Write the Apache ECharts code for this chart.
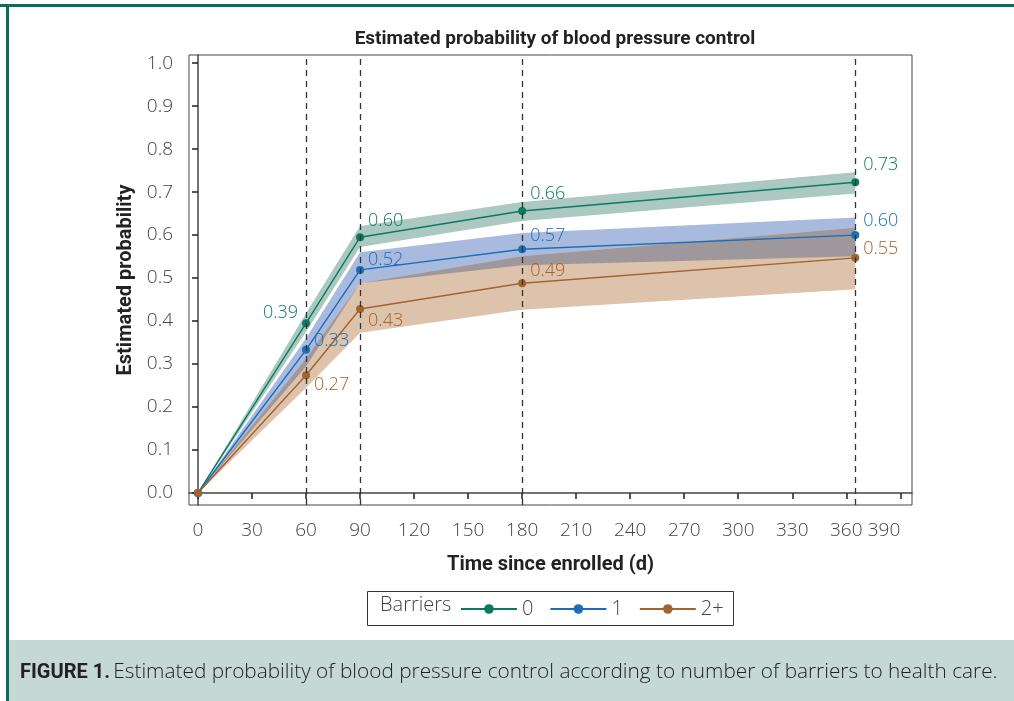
<!DOCTYPE html>
<html lang="en">
<head>
    <meta charset="UTF-8">
    <title>Blood pressure control</title>
    <script src="https://cdn.jsdelivr.net/npm/echarts@6/dist/echarts.min.js"></script>
    <style>
        html, body { margin: 0; height: 100%; background: #fff; }
        #main { width: 1014px; height: 701px; }
    </style>
</head>
<body>
    <div id="main"></div>
    <script type="text/javascript">
        const chart = echarts.init(document.getElementById('main'));

        // data
        const days = [0, 60, 90, 180, 365];
        const markDays = [60, 90, 180, 365];
        const xTicks = [0, 30, 60, 90, 120, 150, 180, 210, 240, 270, 300, 330, 360, 390];
        const yTicks = [0, 0.1, 0.2, 0.3, 0.4, 0.5, 0.6, 0.7, 0.8, 0.9, 1.0];
        const groupNames = ['0', '1', '2+'];

        const est0 = [0, 0.395, 0.595, 0.656, 0.723];
        const est1 = [0, 0.333, 0.519, 0.567, 0.600];
        const est2 = [0, 0.274, 0.428, 0.488, 0.547];

        const lab0 = ['', '0.39', '0.60', '0.66', '0.73'];
        const lab1 = ['', '0.33', '0.52', '0.57', '0.60'];
        const lab2 = ['', '0.27', '0.43', '0.49', '0.55'];

        const lo0 = [0, 0.375, 0.572, 0.633, 0.697];
        const hi0 = [0, 0.418, 0.621, 0.677, 0.746];
        const lo1 = [0, 0.295, 0.488, 0.530, 0.551];
        const hi1 = [0, 0.360, 0.560, 0.605, 0.641];
        const lo2 = [0, 0.245, 0.373, 0.426, 0.474];
        const hi2 = [0, 0.313, 0.488, 0.551, 0.617];

        // styles
        const lineColors = ['#0b7a5e', '#1c6db6', '#a4622e'];
        const bandColors = ['#abc9c0', '#a9badf', '#ddc3ab'];
        const overlapColor = '#9e979c';
        const lightFont = '"Open Sans", sans-serif';
        const boldFont = 'Roboto, sans-serif';

        // label placement per point: [position, dy]
        const labelPlace = [
            [null, ['left', -10], ['right', -16], ['right', -17], ['right', -17]],
            [null, ['right', -9], ['right', -10], ['right', -13], ['right', -14]],
            [null, ['right', 10], ['right', 12], ['right', -12], ['right', -9]]
        ];

        // confidence band as one polygon, drawn through the axis scales
        const bandSeries = (lo, hi, color) => ({
            type: 'custom', silent: true, z: 1, clip: true,
            data: days.map((d, i) => [d, lo[i], hi[i]]),
            encode: { x: 0, y: [1, 2] },
            renderItem: (params, api) => {
                if (params.dataIndex !== 0) return null;
                const pts = [];
                days.forEach((d, i) => pts.push(api.coord([d, hi[i]])));
                for (let i = days.length - 1; i >= 0; i--) pts.push(api.coord([days[i], lo[i]]));
                return { type: 'polygon', shape: { points: pts }, style: { fill: color } };
            }
        });

        const lineSeries = (name, est, labs, places, color, extra) => Object.assign({
            type: 'line', name: name, z: 3,
            data: days.map((d, i) => {
                const p = places[i];
                return {
                    value: [d, est[i]],
                    label: p ? {
                        show: true, formatter: labs[i], position: p[0],
                        distance: 4, offset: [0, p[1]]
                    } : { show: false }
                };
            }),
            symbol: 'circle', symbolSize: 8,
            itemStyle: { color: color },
            lineStyle: { color: color, width: 1.4 },
            label: { color: color, fontSize: 18, fontFamily: lightFont, fontWeight: 300 }
        }, extra || {});

        const series = [
            bandSeries(lo0, hi0, bandColors[0]),
            bandSeries(lo1, hi1, bandColors[1]),
            bandSeries(lo2, hi2, bandColors[2]),
            bandSeries(lo1, hi2.map((v, i) => Math.max(v, lo1[i])), overlapColor),
            lineSeries(groupNames[0], est0, lab0, labelPlace[0], lineColors[0], {
                markLine: {
                    silent: true, symbol: ['none', 'none'],
                    label: { show: false },
                    lineStyle: { color: '#333', type: [6, 5], width: 1.3 },
                    data: markDays.map(d => ({ xAxis: d }))
                }
            }),
            lineSeries(groupNames[1], est1, lab1, labelPlace[1], lineColors[1]),
            lineSeries(groupNames[2], est2, lab2, labelPlace[2], lineColors[2])
        ];

        const axisText = { color: '#444', fontSize: 19, fontFamily: lightFont, fontWeight: 300 };
        const nameText = { color: '#222', fontSize: 20, fontFamily: boldFont, fontWeight: 'bold' };

        chart.setOption({
            animation: false,
            backgroundColor: '#fff',
            title: {
                text: 'Estimated probability of blood pressure control',
                left: 550, top: 25, textAlign: 'center',
                textStyle: { color: '#222', fontSize: 19, fontFamily: boldFont, fontWeight: 'bold' }
            },
            grid: {
                left: 189, right: 102, top: 55, bottom: 196,
                show: true, borderColor: '#444', borderWidth: 1
            },
            legend: {
                data: groupNames,
                left: 455, top: 594,
                itemWidth: 56, itemHeight: 12, itemGap: 16,
                textStyle: { color: '#444', fontSize: 20, fontFamily: lightFont, fontWeight: 300 }
            },
            xAxis: {
                type: 'value', min: -5, max: 396.5,
                name: 'Time since enrolled (d)', nameLocation: 'middle', nameGap: 50,
                nameTextStyle: nameText,
                splitLine: { show: false },
                axisLine: { lineStyle: { color: '#444', width: 1.5 } },
                axisTick: { customValues: xTicks, length: 6, lineStyle: { color: '#222', width: 1.5 } },
                axisLabel: Object.assign({ customValues: xTicks, margin: 16, alignMaxLabel: 'right' }, axisText)
            },
            yAxis: {
                type: 'value', min: -0.028, max: 1.019,
                name: 'Estimated probability', nameLocation: 'middle', nameGap: 51,
                nameTextStyle: nameText,
                splitLine: { show: false },
                axisLine: { show: true, lineStyle: { color: '#444', width: 1.5 } },
                axisTick: { show: true, customValues: yTicks, length: 6, lineStyle: { color: '#222', width: 1.5 } },
                axisLabel: Object.assign({
                    customValues: yTicks, margin: 16,
                    formatter: v => v.toFixed(1)
                }, axisText)
            },
            graphic: [
                { type: 'rect', shape: { x: 0, y: 4, width: 1014, height: 3 }, style: { fill: '#0b6e5a' }, silent: true },
                { type: 'rect', shape: { x: 6, y: 4, width: 3, height: 697 }, style: { fill: '#0b6e5a' }, silent: true },
                { type: 'rect', shape: { x: 9, y: 640, width: 1005, height: 61 }, style: { fill: '#c6d8d4' }, silent: true },
                {
                    type: 'text', left: 20, top: 662, silent: true,
                    style: {
                        text: '{b|FIGURE 1.} {n|Estimated probability of blood pressure control according to number of barriers to health care.}',
                        rich: {
                            b: { fontSize: 20, fontWeight: 'bold', fontFamily: boldFont, fill: '#222' },
                            n: { fontSize: 20.8, fontFamily: lightFont, fontWeight: 300, fill: '#222' }
                        }
                    }
                },
                { type: 'rect', shape: { x: 367.5, y: 591.5, width: 366, height: 34 }, style: { fill: 'none', stroke: '#333', lineWidth: 1 }, silent: true },
                {
                    type: 'text', left: 380, top: 595, silent: true,
                    style: { text: 'Barriers', fontSize: 20, fontFamily: lightFont, fontWeight: 300, fill: '#444' }
                }
            ],
            series: series
        });
    </script>
</body>
</html>
